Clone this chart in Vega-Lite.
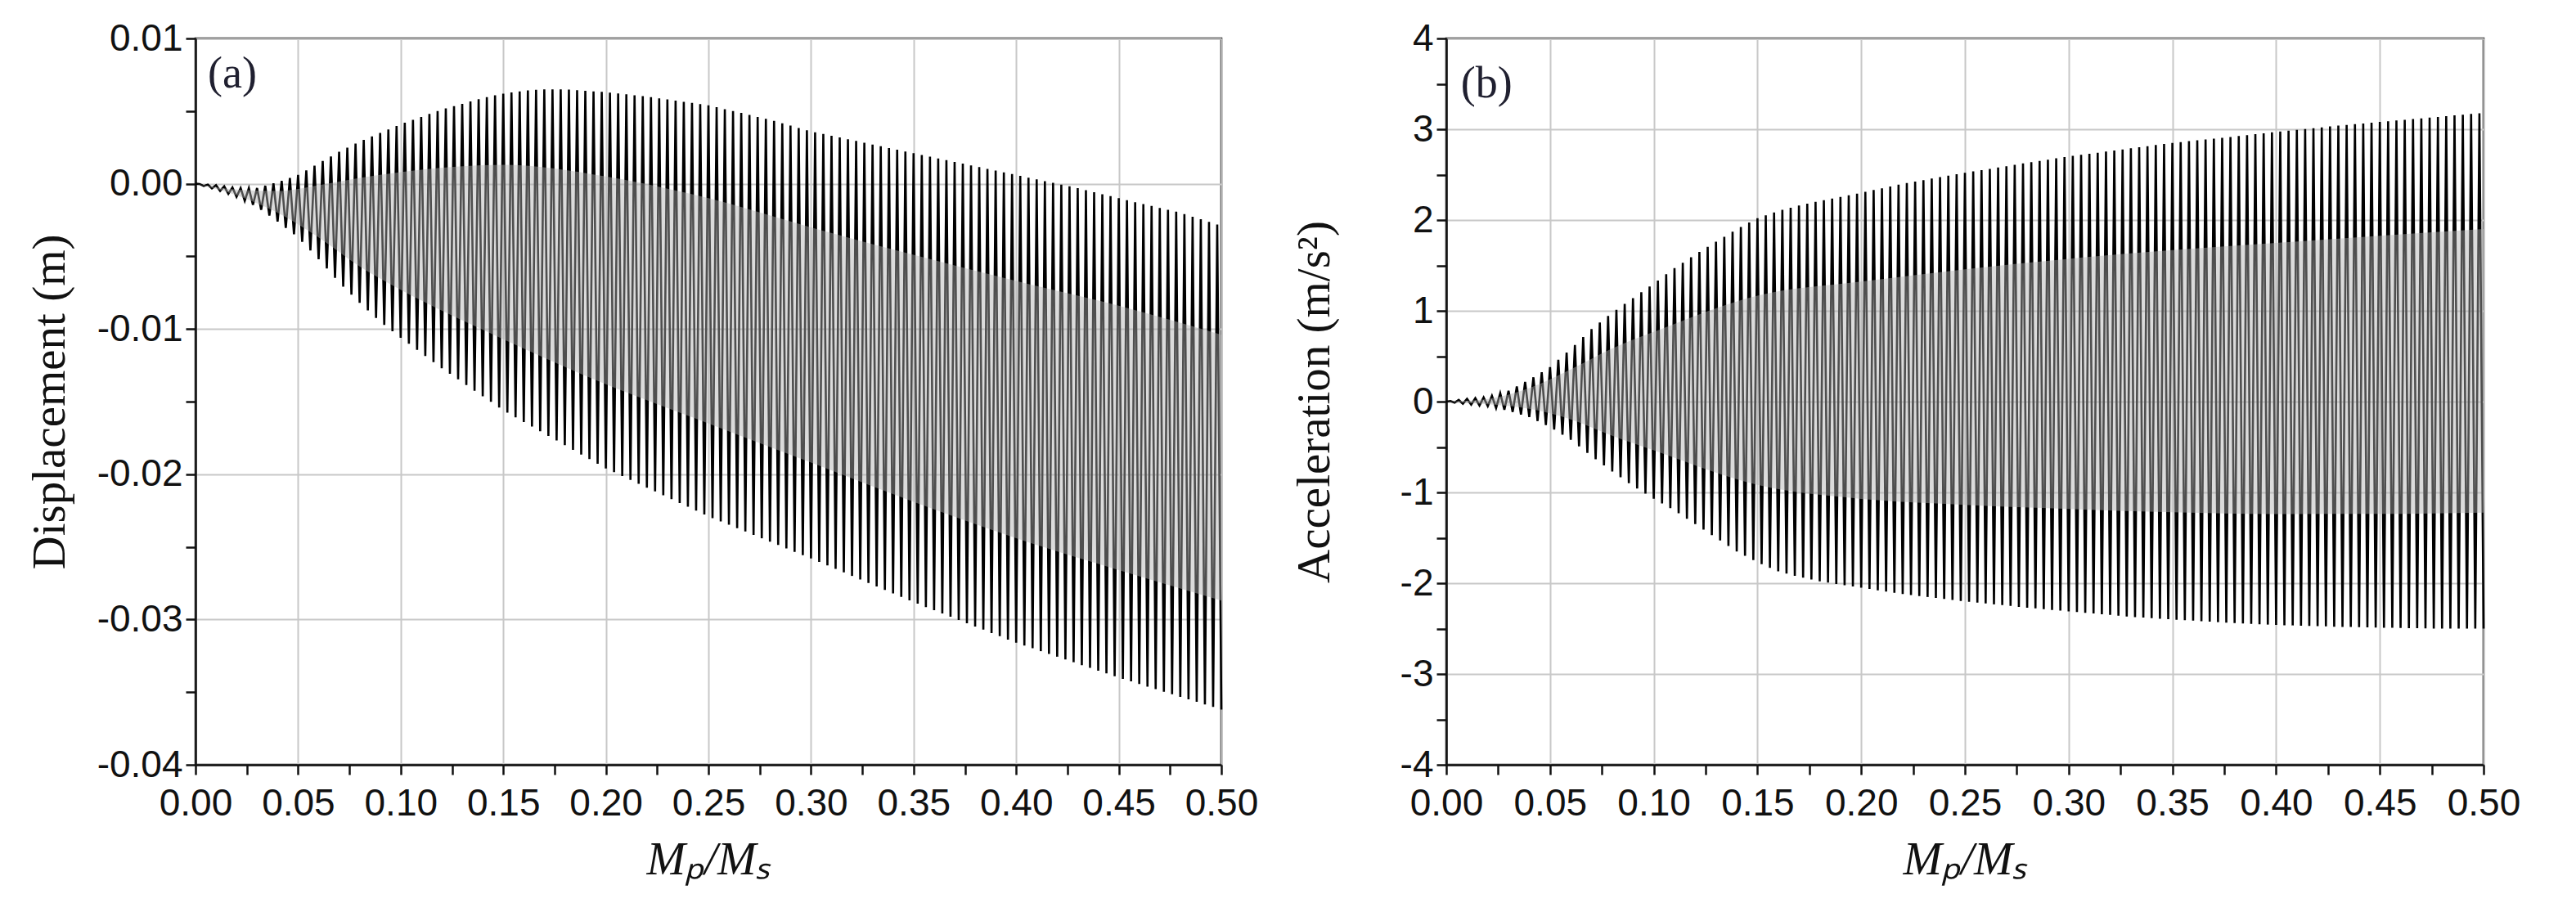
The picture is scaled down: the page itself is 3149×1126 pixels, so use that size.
{
  "$schema": "https://vega.github.io/schema/vega-lite/v6.json",
  "background": "white",
  "padding": {"left": 30, "top": 22, "right": 5, "bottom": 5},
  "spacing": 36,
  "datasets": {
    "dispBand": [
      {"x": 0, "y": 0, "y2": 0},
      {"x": 0.02, "y": -0.0008, "y2": -0.0004},
      {"x": 0.04, "y": -0.002, "y2": -0.0005},
      {"x": 0.06, "y": -0.0037, "y2": -0.0001},
      {"x": 0.08, "y": -0.0057, "y2": 0.0004},
      {"x": 0.1, "y": -0.0073, "y2": 0.0008},
      {"x": 0.15, "y": -0.0107, "y2": 0.0013},
      {"x": 0.2, "y": -0.0138, "y2": 0.0005},
      {"x": 0.25, "y": -0.0165, "y2": -0.001},
      {"x": 0.3, "y": -0.0192, "y2": -0.003},
      {"x": 0.35, "y": -0.0219, "y2": -0.0049},
      {"x": 0.4, "y": -0.0244, "y2": -0.0067},
      {"x": 0.45, "y": -0.0266, "y2": -0.0084},
      {"x": 0.5, "y": -0.0287, "y2": -0.0104}
    ],
    "accBand": [
      {"x": 0, "y": 0, "y2": 0},
      {"x": 0.02, "y": -0.03, "y2": 0.03},
      {"x": 0.04, "y": -0.078, "y2": 0.148},
      {"x": 0.06, "y": -0.195, "y2": 0.355},
      {"x": 0.08, "y": -0.376, "y2": 0.586},
      {"x": 0.1, "y": -0.537, "y2": 0.767},
      {"x": 0.15, "y": -0.917, "y2": 1.167},
      {"x": 0.2, "y": -1.071, "y2": 1.321},
      {"x": 0.25, "y": -1.138, "y2": 1.458},
      {"x": 0.3, "y": -1.183, "y2": 1.573},
      {"x": 0.35, "y": -1.219, "y2": 1.669},
      {"x": 0.4, "y": -1.238, "y2": 1.748},
      {"x": 0.45, "y": -1.237, "y2": 1.827},
      {"x": 0.5, "y": -1.222, "y2": 1.902}
    ],
    "disp": [
      {"x":0,"y":0},{"x":0.002,"y":-0.00002},{"x":0.004,"y":-0.00016},{"x":0.006,"y":-0.00006},{"x":0.008,"y":-0.00032},
      {"x":0.010,"y":-0.0001},{"x":0.012,"y":-0.0005},{"x":0.014,"y":-0.00018},{"x":0.016,"y":-0.0007},{"x":0.018,"y":-0.00026},
      {"x":0.020,"y":-0.0009},{"x":0.022,"y":-0.0003},{"x":0.024,"y":-0.00118},{"x":0.026,"y":-0.0003},{"x":0.028,"y":-0.00146},
      {"x":0.030,"y":-0.0003},{"x":0.032,"y":-0.0018},{"x":0.034,"y":-0.00014},{"x":0.036,"y":-0.0022},{"x":0.038,"y":0.00002},
      {"x":0.040,"y":-0.0026},{"x":0.042,"y":0.0002},{"x":0.044,"y":-0.00304},{"x":0.046,"y":0.0004},{"x":0.048,"y":-0.00348},
      {"x":0.050,"y":0.0006},{"x":0.052,"y":-0.004},{"x":0.054,"y":0.00092},{"x":0.056,"y":-0.0046},{"x":0.058,"y":0.00124},
      {"x":0.060,"y":-0.0052},{"x":0.062,"y":0.00156},{"x":0.064,"y":-0.00584},{"x":0.066,"y":0.00188},{"x":0.068,"y":-0.00648},
      {"x":0.070,"y":0.0022},{"x":0.072,"y":-0.00708},{"x":0.074,"y":0.00248},{"x":0.076,"y":-0.00764},{"x":0.078,"y":0.00276},
      {"x":0.080,"y":-0.0082},{"x":0.082,"y":0.00302},{"x":0.084,"y":-0.00872},{"x":0.086,"y":0.00326},{"x":0.088,"y":-0.00924},
      {"x":0.090,"y":0.0035},{"x":0.092,"y":-0.00972},{"x":0.094,"y":0.00374},{"x":0.096,"y":-0.01016},{"x":0.098,"y":0.00398},
      {"x":0.100,"y":-0.0106},{"x":0.102,"y":0.0042},{"x":0.104,"y":-0.01102},{"x":0.106,"y":0.0044},{"x":0.108,"y":-0.01144},
      {"x":0.110,"y":0.0046},{"x":0.112,"y":-0.01186},{"x":0.114,"y":0.0048},{"x":0.116,"y":-0.01228},{"x":0.118,"y":0.005},
      {"x":0.120,"y":-0.0127},{"x":0.122,"y":0.00518},{"x":0.124,"y":-0.01309},{"x":0.126,"y":0.00534},{"x":0.128,"y":-0.01347},
      {"x":0.130,"y":0.0055},{"x":0.132,"y":-0.01386},{"x":0.134,"y":0.00566},{"x":0.136,"y":-0.01425},{"x":0.138,"y":0.00582},
      {"x":0.140,"y":-0.01463},{"x":0.142,"y":0.00596},{"x":0.144,"y":-0.01502},{"x":0.146,"y":0.00608},{"x":0.148,"y":-0.01541},
      {"x":0.150,"y":0.0062},{"x":0.152,"y":-0.01576},{"x":0.154,"y":0.00628},{"x":0.156,"y":-0.01608},{"x":0.158,"y":0.00636},
      {"x":0.160,"y":-0.0164},{"x":0.162,"y":0.00642},{"x":0.164,"y":-0.01672},{"x":0.166,"y":0.00646},{"x":0.168,"y":-0.01704},
      {"x":0.170,"y":0.0065},{"x":0.172,"y":-0.01736},{"x":0.174,"y":0.0065},{"x":0.176,"y":-0.01768},{"x":0.178,"y":0.0065},
      {"x":0.180,"y":-0.018},{"x":0.182,"y":0.00648},{"x":0.184,"y":-0.01832},{"x":0.186,"y":0.00644},{"x":0.188,"y":-0.01864},
      {"x":0.190,"y":0.0064},{"x":0.192,"y":-0.01896},{"x":0.194,"y":0.00636},{"x":0.196,"y":-0.01928},{"x":0.198,"y":0.00632},
      {"x":0.200,"y":-0.0196},{"x":0.202,"y":0.00627},{"x":0.204,"y":-0.01986},{"x":0.206,"y":0.00621},{"x":0.208,"y":-0.02013},
      {"x":0.210,"y":0.00615},{"x":0.212,"y":-0.02039},{"x":0.214,"y":0.00609},{"x":0.216,"y":-0.02066},{"x":0.218,"y":0.00603},
      {"x":0.220,"y":-0.02092},{"x":0.222,"y":0.00596},{"x":0.224,"y":-0.02118},{"x":0.226,"y":0.00588},{"x":0.228,"y":-0.02145},
      {"x":0.230,"y":0.0058},{"x":0.232,"y":-0.02171},{"x":0.234,"y":0.00572},{"x":0.236,"y":-0.02198},{"x":0.238,"y":0.00564},
      {"x":0.240,"y":-0.02224},{"x":0.242,"y":0.00556},{"x":0.244,"y":-0.0225},{"x":0.246,"y":0.00548},{"x":0.248,"y":-0.02277},
      {"x":0.250,"y":0.0054},{"x":0.252,"y":-0.02302},{"x":0.254,"y":0.00527},{"x":0.256,"y":-0.02325},{"x":0.258,"y":0.00513},
      {"x":0.260,"y":-0.02348},{"x":0.262,"y":0.005},{"x":0.264,"y":-0.02371},{"x":0.266,"y":0.00487},{"x":0.268,"y":-0.02394},
      {"x":0.270,"y":0.00473},{"x":0.272,"y":-0.02418},{"x":0.274,"y":0.0046},{"x":0.276,"y":-0.02441},{"x":0.278,"y":0.00447},
      {"x":0.280,"y":-0.02464},{"x":0.282,"y":0.00432},{"x":0.284,"y":-0.02487},{"x":0.286,"y":0.00416},{"x":0.288,"y":-0.0251},
      {"x":0.290,"y":0.004},{"x":0.292,"y":-0.02534},{"x":0.294,"y":0.00384},{"x":0.296,"y":-0.02557},{"x":0.298,"y":0.00368},
      {"x":0.300,"y":-0.0258},{"x":0.302,"y":0.00354},{"x":0.304,"y":-0.02604},{"x":0.306,"y":0.00342},{"x":0.308,"y":-0.02628},
      {"x":0.310,"y":0.0033},{"x":0.312,"y":-0.02652},{"x":0.314,"y":0.00318},{"x":0.316,"y":-0.02676},{"x":0.318,"y":0.00306},
      {"x":0.320,"y":-0.027},{"x":0.322,"y":0.00294},{"x":0.324,"y":-0.02724},{"x":0.326,"y":0.00282},{"x":0.328,"y":-0.02748},
      {"x":0.330,"y":0.0027},{"x":0.332,"y":-0.02772},{"x":0.334,"y":0.00258},{"x":0.336,"y":-0.02796},{"x":0.338,"y":0.00246},
      {"x":0.340,"y":-0.0282},{"x":0.342,"y":0.00234},{"x":0.344,"y":-0.02844},{"x":0.346,"y":0.00222},{"x":0.348,"y":-0.02868},
      {"x":0.350,"y":0.0021},{"x":0.352,"y":-0.02891},{"x":0.354,"y":0.00198},{"x":0.356,"y":-0.02914},{"x":0.358,"y":0.00186},
      {"x":0.360,"y":-0.02936},{"x":0.362,"y":0.00174},{"x":0.364,"y":-0.02958},{"x":0.366,"y":0.00162},{"x":0.368,"y":-0.02981},
      {"x":0.370,"y":0.0015},{"x":0.372,"y":-0.03003},{"x":0.374,"y":0.00138},{"x":0.376,"y":-0.03026},{"x":0.378,"y":0.00126},
      {"x":0.380,"y":-0.03048},{"x":0.382,"y":0.00114},{"x":0.384,"y":-0.0307},{"x":0.386,"y":0.00102},{"x":0.388,"y":-0.03093},
      {"x":0.390,"y":0.0009},{"x":0.392,"y":-0.03115},{"x":0.394,"y":0.00078},{"x":0.396,"y":-0.03138},{"x":0.398,"y":0.00066},
      {"x":0.400,"y":-0.0316},{"x":0.402,"y":0.00054},{"x":0.404,"y":-0.03179},{"x":0.406,"y":0.00042},{"x":0.408,"y":-0.03198},
      {"x":0.410,"y":0.0003},{"x":0.412,"y":-0.03218},{"x":0.414,"y":0.00018},{"x":0.416,"y":-0.03237},{"x":0.418,"y":0.00006},
      {"x":0.420,"y":-0.03256},{"x":0.422,"y":-0.00006},{"x":0.424,"y":-0.03275},{"x":0.426,"y":-0.00018},{"x":0.428,"y":-0.03294},
      {"x":0.430,"y":-0.0003},{"x":0.432,"y":-0.03314},{"x":0.434,"y":-0.00044},{"x":0.436,"y":-0.03333},{"x":0.438,"y":-0.00058},
      {"x":0.440,"y":-0.03352},{"x":0.442,"y":-0.00072},{"x":0.444,"y":-0.03371},{"x":0.446,"y":-0.00086},{"x":0.448,"y":-0.0339},
      {"x":0.450,"y":-0.001},{"x":0.452,"y":-0.03409},{"x":0.454,"y":-0.00113},{"x":0.456,"y":-0.03426},{"x":0.458,"y":-0.00127},
      {"x":0.460,"y":-0.03444},{"x":0.462,"y":-0.0014},{"x":0.464,"y":-0.03462},{"x":0.466,"y":-0.00153},{"x":0.468,"y":-0.03479},
      {"x":0.470,"y":-0.00167},{"x":0.472,"y":-0.03497},{"x":0.474,"y":-0.0018},{"x":0.476,"y":-0.03514},{"x":0.478,"y":-0.00193},
      {"x":0.480,"y":-0.03532},{"x":0.482,"y":-0.00209},{"x":0.484,"y":-0.0355},{"x":0.486,"y":-0.00227},{"x":0.488,"y":-0.03567},
      {"x":0.490,"y":-0.00245},{"x":0.492,"y":-0.03585},{"x":0.494,"y":-0.00263},{"x":0.496,"y":-0.03602},{"x":0.498,"y":-0.00281},
      {"x":0.500,"y":-0.0362}
    ],
    "acc": [
      {"x":0,"y":0},{"x":0.002,"y":0.006},{"x":0.004,"y":-0.012},{"x":0.006,"y":0.018},{"x":0.008,"y":-0.024},
      {"x":0.010,"y":0.03},{"x":0.012,"y":-0.034},{"x":0.014,"y":0.038},{"x":0.016,"y":-0.042},{"x":0.018,"y":0.046},
      {"x":0.020,"y":-0.05},{"x":0.022,"y":0.064},{"x":0.024,"y":-0.07},{"x":0.026,"y":0.092},{"x":0.028,"y":-0.09},
      {"x":0.030,"y":0.12},{"x":0.032,"y":-0.114},{"x":0.034,"y":0.168},{"x":0.036,"y":-0.142},{"x":0.038,"y":0.216},
      {"x":0.040,"y":-0.17},{"x":0.042,"y":0.268},{"x":0.044,"y":-0.214},{"x":0.046,"y":0.324},{"x":0.048,"y":-0.258},
      {"x":0.050,"y":0.38},{"x":0.052,"y":-0.308},{"x":0.054,"y":0.46},{"x":0.056,"y":-0.364},{"x":0.058,"y":0.54},
      {"x":0.060,"y":-0.42},{"x":0.062,"y":0.624},{"x":0.064,"y":-0.492},{"x":0.066,"y":0.712},{"x":0.068,"y":-0.564},
      {"x":0.070,"y":0.8},{"x":0.072,"y":-0.634},{"x":0.074,"y":0.872},{"x":0.076,"y":-0.702},{"x":0.078,"y":0.944},
      {"x":0.080,"y":-0.77},{"x":0.082,"y":1.012},{"x":0.084,"y":-0.834},{"x":0.086,"y":1.076},{"x":0.088,"y":-0.898},
      {"x":0.090,"y":1.14},{"x":0.092,"y":-0.958},{"x":0.094,"y":1.204},{"x":0.096,"y":-1.014},{"x":0.098,"y":1.268},
      {"x":0.100,"y":-1.07},{"x":0.102,"y":1.334},{"x":0.104,"y":-1.122},{"x":0.106,"y":1.402},{"x":0.108,"y":-1.174},
      {"x":0.110,"y":1.47},{"x":0.112,"y":-1.23},{"x":0.114,"y":1.53},{"x":0.116,"y":-1.29},{"x":0.118,"y":1.59},
      {"x":0.120,"y":-1.35},{"x":0.122,"y":1.648},{"x":0.124,"y":-1.41},{"x":0.126,"y":1.704},{"x":0.128,"y":-1.47},
      {"x":0.130,"y":1.76},{"x":0.132,"y":-1.53},{"x":0.134,"y":1.816},{"x":0.136,"y":-1.59},{"x":0.138,"y":1.872},
      {"x":0.140,"y":-1.65},{"x":0.142,"y":1.924},{"x":0.144,"y":-1.698},{"x":0.146,"y":1.972},{"x":0.148,"y":-1.746},
      {"x":0.150,"y":2.02},{"x":0.152,"y":-1.79},{"x":0.154,"y":2.052},{"x":0.156,"y":-1.83},{"x":0.158,"y":2.084},
      {"x":0.160,"y":-1.87},{"x":0.162,"y":2.112},{"x":0.164,"y":-1.894},{"x":0.166,"y":2.136},{"x":0.168,"y":-1.918},
      {"x":0.170,"y":2.16},{"x":0.172,"y":-1.94},{"x":0.174,"y":2.18},{"x":0.176,"y":-1.96},{"x":0.178,"y":2.2},
      {"x":0.180,"y":-1.98},{"x":0.182,"y":2.219},{"x":0.184,"y":-1.994},{"x":0.186,"y":2.237},{"x":0.188,"y":-2.008},
      {"x":0.190,"y":2.255},{"x":0.192,"y":-2.022},{"x":0.194,"y":2.273},{"x":0.196,"y":-2.036},{"x":0.198,"y":2.291},
      {"x":0.200,"y":-2.05},{"x":0.202,"y":2.31},{"x":0.204,"y":-2.064},{"x":0.206,"y":2.33},{"x":0.208,"y":-2.078},
      {"x":0.210,"y":2.35},{"x":0.212,"y":-2.092},{"x":0.214,"y":2.37},{"x":0.216,"y":-2.106},{"x":0.218,"y":2.39},
      {"x":0.220,"y":-2.12},{"x":0.222,"y":2.408},{"x":0.224,"y":-2.131},{"x":0.226,"y":2.424},{"x":0.228,"y":-2.141},
      {"x":0.230,"y":2.44},{"x":0.232,"y":-2.152},{"x":0.234,"y":2.456},{"x":0.236,"y":-2.163},{"x":0.238,"y":2.472},
      {"x":0.240,"y":-2.173},{"x":0.242,"y":2.488},{"x":0.244,"y":-2.184},{"x":0.246,"y":2.504},{"x":0.248,"y":-2.195},
      {"x":0.250,"y":2.52},{"x":0.252,"y":-2.205},{"x":0.254,"y":2.535},{"x":0.256,"y":-2.214},{"x":0.258,"y":2.549},
      {"x":0.260,"y":-2.223},{"x":0.262,"y":2.564},{"x":0.264,"y":-2.233},{"x":0.266,"y":2.579},{"x":0.268,"y":-2.242},
      {"x":0.270,"y":2.593},{"x":0.272,"y":-2.251},{"x":0.274,"y":2.608},{"x":0.276,"y":-2.261},{"x":0.278,"y":2.623},
      {"x":0.280,"y":-2.27},{"x":0.282,"y":2.637},{"x":0.284,"y":-2.278},{"x":0.286,"y":2.651},{"x":0.288,"y":-2.286},
      {"x":0.290,"y":2.665},{"x":0.292,"y":-2.294},{"x":0.294,"y":2.679},{"x":0.296,"y":-2.302},{"x":0.298,"y":2.693},
      {"x":0.300,"y":-2.31},{"x":0.302,"y":2.706},{"x":0.304,"y":-2.318},{"x":0.306,"y":2.718},{"x":0.308,"y":-2.326},
      {"x":0.310,"y":2.73},{"x":0.312,"y":-2.334},{"x":0.314,"y":2.742},{"x":0.316,"y":-2.342},{"x":0.318,"y":2.754},
      {"x":0.320,"y":-2.35},{"x":0.322,"y":2.766},{"x":0.324,"y":-2.358},{"x":0.326,"y":2.778},{"x":0.328,"y":-2.366},
      {"x":0.330,"y":2.79},{"x":0.332,"y":-2.373},{"x":0.334,"y":2.802},{"x":0.336,"y":-2.379},{"x":0.338,"y":2.814},
      {"x":0.340,"y":-2.385},{"x":0.342,"y":2.826},{"x":0.344,"y":-2.391},{"x":0.346,"y":2.838},{"x":0.348,"y":-2.397},
      {"x":0.350,"y":2.85},{"x":0.352,"y":-2.403},{"x":0.354,"y":2.859},{"x":0.356,"y":-2.408},{"x":0.358,"y":2.869},
      {"x":0.360,"y":-2.413},{"x":0.362,"y":2.878},{"x":0.364,"y":-2.419},{"x":0.366,"y":2.887},{"x":0.368,"y":-2.424},
      {"x":0.370,"y":2.897},{"x":0.372,"y":-2.429},{"x":0.374,"y":2.906},{"x":0.376,"y":-2.435},{"x":0.378,"y":2.915},
      {"x":0.380,"y":-2.44},{"x":0.382,"y":2.925},{"x":0.384,"y":-2.444},{"x":0.386,"y":2.935},{"x":0.388,"y":-2.448},
      {"x":0.390,"y":2.945},{"x":0.392,"y":-2.452},{"x":0.394,"y":2.955},{"x":0.396,"y":-2.456},{"x":0.398,"y":2.965},
      {"x":0.400,"y":-2.46},{"x":0.402,"y":2.975},{"x":0.404,"y":-2.463},{"x":0.406,"y":2.984},{"x":0.408,"y":-2.465},
      {"x":0.410,"y":2.993},{"x":0.412,"y":-2.468},{"x":0.414,"y":3.003},{"x":0.416,"y":-2.471},{"x":0.418,"y":3.012},
      {"x":0.420,"y":-2.473},{"x":0.422,"y":3.021},{"x":0.424,"y":-2.476},{"x":0.426,"y":3.031},{"x":0.428,"y":-2.479},
      {"x":0.430,"y":3.04},{"x":0.432,"y":-2.481},{"x":0.434,"y":3.048},{"x":0.436,"y":-2.483},{"x":0.438,"y":3.056},
      {"x":0.440,"y":-2.485},{"x":0.442,"y":3.064},{"x":0.444,"y":-2.487},{"x":0.446,"y":3.072},{"x":0.448,"y":-2.489},
      {"x":0.450,"y":3.08},{"x":0.452,"y":-2.491},{"x":0.454,"y":3.088},{"x":0.456,"y":-2.492},{"x":0.458,"y":3.096},
      {"x":0.460,"y":-2.493},{"x":0.462,"y":3.104},{"x":0.464,"y":-2.495},{"x":0.466,"y":3.112},{"x":0.468,"y":-2.496},
      {"x":0.470,"y":3.12},{"x":0.472,"y":-2.497},{"x":0.474,"y":3.128},{"x":0.476,"y":-2.499},{"x":0.478,"y":3.136},
      {"x":0.480,"y":-2.5},{"x":0.482,"y":3.144},{"x":0.484,"y":-2.5},{"x":0.486,"y":3.152},{"x":0.488,"y":-2.5},
      {"x":0.490,"y":3.16},{"x":0.492,"y":-2.5},{"x":0.494,"y":3.168},{"x":0.496,"y":-2.5},{"x":0.498,"y":3.176},
      {"x":0.500,"y":-2.5}
    ]
  },
  "hconcat": [
    {
      "width": 1254,
      "height": 888,
      "encoding": {
        "x": {
          "field": "x",
          "type": "quantitative",
          "scale": {"domain": [0, 0.5], "nice": false, "zero": false},
          "axis": {
            "title": "Mₚ/Mₛ",
            "titleFontStyle": "italic",
            "titlePadding": 18,
            "labelPadding": 13,
            "values": [0, 0.025, 0.05, 0.075, 0.1, 0.125, 0.15, 0.175, 0.2, 0.225, 0.25, 0.275, 0.3, 0.325, 0.35, 0.375, 0.4, 0.425, 0.45, 0.475, 0.5],
            "labelExpr": "abs(datum.value * 20 - round(datum.value * 20)) < 0.001 ? format(datum.value, '.2f') : ''",
            "gridOpacity": {"condition": {"test": "abs(datum.value * 20 - round(datum.value * 20)) < 0.001", "value": 1}, "value": 0}
          }
        },
        "y": {
          "field": "y",
          "type": "quantitative",
          "scale": {"domain": [-0.04, 0.01], "nice": false, "zero": false},
          "axis": {
            "title": "Displacement (m)",
            "titlePadding": 28,
            "values": [-0.04, -0.035, -0.03, -0.025, -0.02, -0.015, -0.01, -0.005, 0, 0.005, 0.01],
            "labelExpr": "abs(datum.value * 100 - round(datum.value * 100)) < 0.001 ? replace(format(datum.value, '.2f'), '\u2212', '-') : ''",
            "gridOpacity": {"condition": {"test": "abs(datum.value * 100 - round(datum.value * 100)) < 0.001", "value": 1}, "value": 0}
          }
        }
      },
      "layer": [
        {
          "data": {"name": "disp"},
          "mark": {"type": "line", "color": "black", "strokeWidth": 2.6}
        },
        {
          "data": {"name": "dispBand"},
          "mark": {"type": "area", "color": "#b0b0b0", "opacity": 0.45, "interpolate": "monotone"},
          "encoding": {"y2": {"field": "y2"}}
        },
        {
          "data": {"values": [{"x": 0.006, "y": 0.0075, "label": "(a)"}]},
          "mark": {"type": "text", "font": "Liberation Serif", "fontSize": 54, "align": "left", "baseline": "middle", "color": "#202030"},
          "encoding": {"text": {"field": "label"}}
        }
      ]
    },
    {
      "width": 1268,
      "height": 888,
      "encoding": {
        "x": {
          "field": "x",
          "type": "quantitative",
          "scale": {"domain": [0, 0.5], "nice": false, "zero": false},
          "axis": {
            "title": "Mₚ/Mₛ",
            "titleFontStyle": "italic",
            "titlePadding": 18,
            "labelPadding": 13,
            "values": [0, 0.025, 0.05, 0.075, 0.1, 0.125, 0.15, 0.175, 0.2, 0.225, 0.25, 0.275, 0.3, 0.325, 0.35, 0.375, 0.4, 0.425, 0.45, 0.475, 0.5],
            "labelExpr": "abs(datum.value * 20 - round(datum.value * 20)) < 0.001 ? format(datum.value, '.2f') : ''",
            "gridOpacity": {"condition": {"test": "abs(datum.value * 20 - round(datum.value * 20)) < 0.001", "value": 1}, "value": 0}
          }
        },
        "y": {
          "field": "y",
          "type": "quantitative",
          "scale": {"domain": [-4, 4], "nice": false, "zero": false},
          "axis": {
            "title": "Acceleration (m/s²)",
            "titlePadding": 75,
            "values": [-4, -3.5, -3, -2.5, -2, -1.5, -1, -0.5, 0, 0.5, 1, 1.5, 2, 2.5, 3, 3.5, 4],
            "labelExpr": "abs(datum.value - round(datum.value)) < 0.001 ? replace(format(datum.value, 'd'), '\u2212', '-') : ''",
            "gridOpacity": {"condition": {"test": "abs(datum.value - round(datum.value)) < 0.001", "value": 1}, "value": 0}
          }
        }
      },
      "layer": [
        {
          "data": {"name": "acc"},
          "mark": {"type": "line", "color": "black", "strokeWidth": 2.6}
        },
        {
          "data": {"name": "accBand"},
          "mark": {"type": "area", "color": "#b0b0b0", "opacity": 0.45, "interpolate": "monotone"},
          "encoding": {"y2": {"field": "y2"}}
        },
        {
          "data": {"values": [{"x": 0.007, "y": 3.5, "label": "(b)"}]},
          "mark": {"type": "text", "font": "Liberation Serif", "fontSize": 54, "align": "left", "baseline": "middle", "color": "#202030"},
          "encoding": {"text": {"field": "label"}}
        }
      ]
    }
  ],
  "config": {
    "view": {"stroke": "#111111", "strokeWidth": 2.5},
    "axis": {
      "domainColor": "#111111",
      "domainWidth": 2.5,
      "tickColor": "#111111",
      "tickWidth": 2.5,
      "tickSize": 12,
      "labelFont": "Liberation Sans",
      "labelFontSize": 46,
      "labelColor": "#111111",
      "labelPadding": 4,
      "labelOverlap": false,
      "labelFlush": false,
      "titleFont": "Liberation Serif",
      "titleFontSize": 57,
      "titleFontWeight": "normal",
      "titleColor": "#111111",
      "gridColor": "#c8c8c8",
      "gridWidth": 2
    }
  }
}
